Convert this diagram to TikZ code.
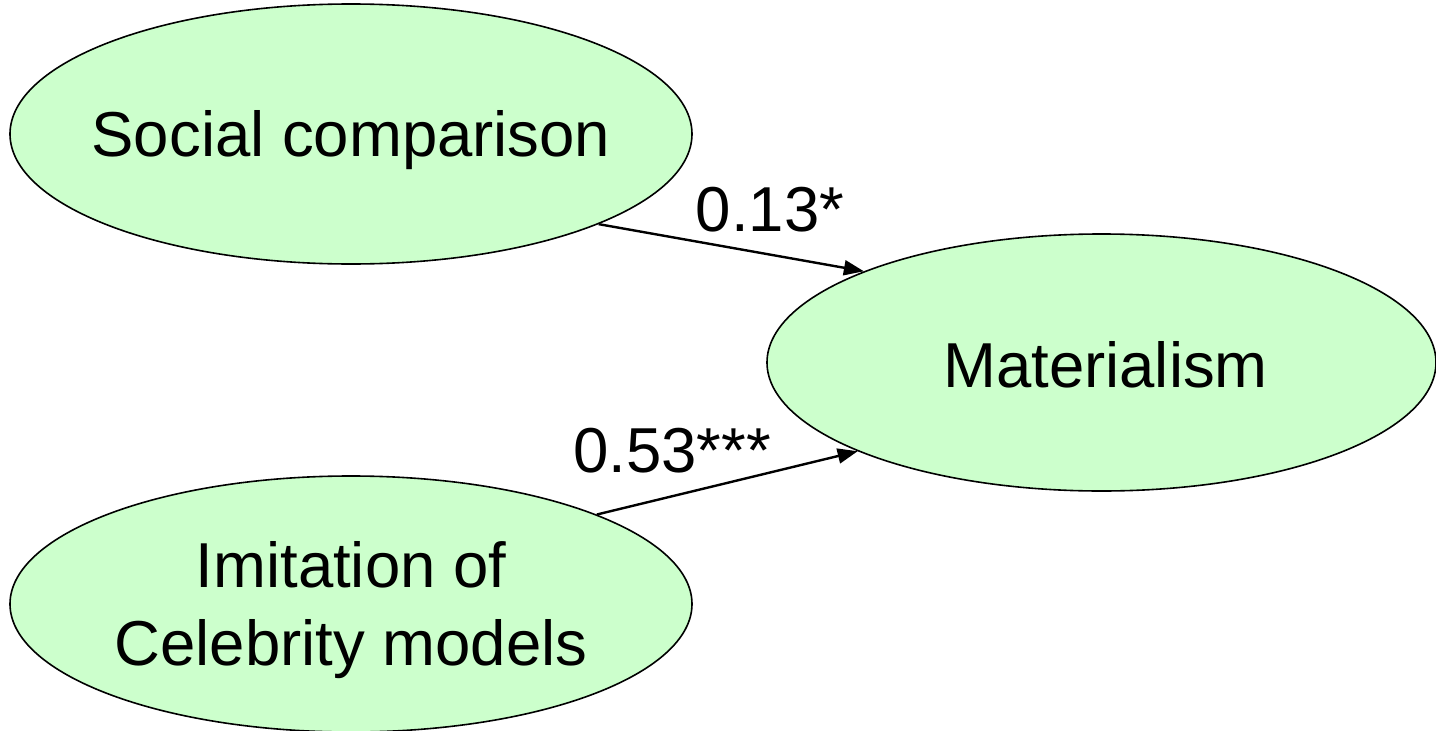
\documentclass[tikz,border=0pt]{standalone}
\usepackage{fontspec}
\setmainfont{Liberation Sans}
\usetikzlibrary{shapes.geometric,arrows.meta}
\definecolor{lightgreen}{HTML}{CCFFCC}
\tikzset{
  var/.style={ellipse, draw=black, line width=1.6pt, fill=lightgreen, inner sep=0pt},
  vtext/.style={inner sep=0pt, align=center, font=\fontsize{63.5}{78}\selectfont},
  path/.style={line width=2.4pt, -{Triangle[length=20pt,width=15pt]}},
  coef/.style={inner sep=0pt, anchor=base, font=\fontsize{63.5}{78}\selectfont}
}
\begin{document}
\begin{tikzpicture}[x=1pt,y=-1pt]
\useasboundingbox (0,0) rectangle (1436,731);
\node[var, minimum width=682pt, minimum height=260pt,
  label={[vtext, yshift=-6pt]center:Social comparison}] (soc) at (351,134) {};
\node[var, minimum width=669pt, minimum height=257pt,
  label={[vtext, yshift=-2pt, xshift=4pt]center:Materialism}] (mat) at (1101.5,362.5) {};
\node[var, minimum width=682pt, minimum height=256pt,
  label={[vtext, yshift=-6pt]center:Imitation of\\Celebrity models}] (imi) at (351,604) {};
\draw[path] (soc.-20.8) -- (mat.159.2);
\draw[path] (imi.20.6) -- (mat.200.8);
\node[coef] (c1) at (770,231) {0.13*};
\node[coef] (c2) at (672,472) {0.53***};
\end{tikzpicture}
\end{document}
